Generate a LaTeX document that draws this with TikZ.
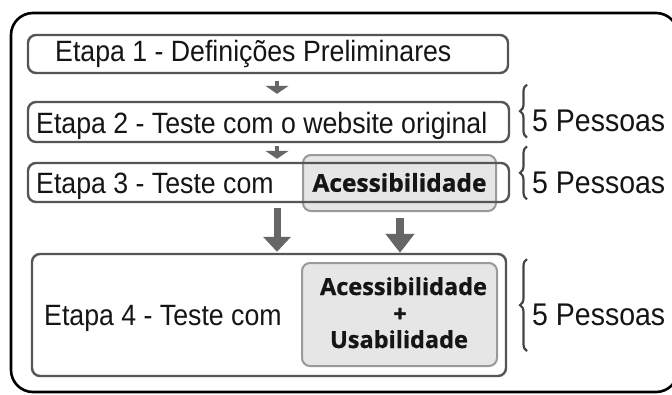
\documentclass[tikz,border=0pt]{standalone}
\usepackage{fontspec}
\setmainfont{Liberation Sans}
\newfontfamily\accfont[FakeBold=0.8]{Open Sans Bold}
\usetikzlibrary{arrows.meta,decorations.pathreplacing,calc}
\definecolor{boxline}{HTML}{555555}
\definecolor{accfill}{HTML}{E6E6E6}
\definecolor{accline}{HTML}{9A9A9A}
\definecolor{arrowgray}{HTML}{666666}
\definecolor{txt}{HTML}{151515}
\definecolor{brcline}{HTML}{444444}
\newcommand{\tall}[1]{\scalebox{1}[1.1]{#1}}
\begin{document}
\begin{tikzpicture}[x=1pt,y=-1pt,
  stagebox/.style={draw=boxline,line width=2.4pt,rounded corners=8pt,inner sep=0pt},
  accbox/.style={draw=accline,fill=accfill,line width=2pt,rounded corners=8pt,inner sep=0pt},
  lbl/.style={inner sep=0pt,anchor=base west,text=txt,font=\fontsize{26.7}{30}\selectfont},
  acclbl/.style={inner sep=0pt,anchor=base,text=txt,font=\accfont\fontsize{24.5}{28}\selectfont},
  ppl/.style={inner sep=0pt,anchor=base west,text=txt,font=\fontsize{28.5}{32}\selectfont},
  smallarrow/.style={draw=arrowgray,line width=4pt,-{Triangle[width=23pt,length=8pt]}},
  bigarrow/.style={draw=arrowgray,line width=7pt,-{Triangle[width=27pt,length=15pt]}},
  brc/.style={draw=brcline,line width=2.2pt,decorate,decoration={brace,amplitude=7pt}}]
\useasboundingbox (0,0) rectangle (672,394);
\fill[white] (0,0) rectangle (672,394);
% outer frame
\draw[black,line width=2.6pt,rounded corners=22pt] (11,13) rectangle (678,392);
% stages
\node[stagebox,minimum width=480pt,minimum height=38pt] (b1) at (268,54) {};
\node[stagebox,minimum width=481pt,minimum height=40pt] (b2) at (268.5,122) {};
\node[accbox,minimum width=193pt,minimum height=56pt] (a3) at (399.5,183) {};
\node[stagebox,minimum width=481pt,minimum height=39pt] (b3) at (268.5,182.5) {};
\node[stagebox,minimum width=474pt,minimum height=122pt] (b4) at (269,315) {};
\node[accbox,minimum width=195pt,minimum height=103pt] (a4) at (399.5,314.5) {};
% texts
\node[lbl] (t1) at (55,61.7) {\tall{Etapa 1 - Definições Preliminares}};
\node[lbl] (t2) at (36,133) {\tall{Etapa 2 - Teste com o website original}};
\node[lbl] (t3) at (36,193) {\tall{Etapa 3 - Teste com}};
\node[lbl] (t4) at (44,325.7) {\tall{Etapa 4 - Teste com}};
\node[acclbl] (c3) at (399.5,191.7) {Acessibilidade};
\node[acclbl,font=\accfont\fontsize{23.5}{28}\selectfont] (c4a) at (403.5,295) {Acessibilidade};
\node[acclbl,font=\accfont\fontsize{23.5}{28}\selectfont] (c4b) at (400,322) {+};
\node[acclbl,font=\accfont\fontsize{23.5}{28}\selectfont] (c4c) at (399,348) {Usabilidade};
% people
\node[ppl] (p2) at (532,131.7) {\tall{5 Pessoas}};
\node[ppl] (p3) at (532,193) {\tall{5 Pessoas}};
\node[ppl] (p4) at (532,325.7) {\tall{5 Pessoas}};
% arrows
\coordinate (ax) at (277,0);
\coordinate (bx) at (400,0);
\draw[smallarrow,shorten <=7pt,shorten >=7pt] (b1.south -| ax) -- (b2.north -| ax);
\draw[smallarrow,shorten <=3pt,shorten >=3pt] (b2.south -| ax) -- (b3.north -| ax);
\draw[bigarrow,shorten <=5pt,shorten >=1pt] (b3.south -| ax) -- (b4.north -| ax);
\draw[bigarrow,line width=8pt,-{Triangle[width=28pt,length=19pt]},shorten <=6pt,shorten >=0pt] (a3.south -| bx) -- (b4.north -| bx);
% braces
\draw[brc] ($(p2.west)+(-5,16.5)$) -- ($(p2.west)+(-5,-36.5)$);
\draw[brc] ($(p3.west)+(-5,17)$) -- ($(p3.west)+(-5,-36)$);
\draw[brc] ($(p4.west)+(-5,36)$) -- ($(p4.west)+(-5,-56)$);
\end{tikzpicture}
\end{document}
